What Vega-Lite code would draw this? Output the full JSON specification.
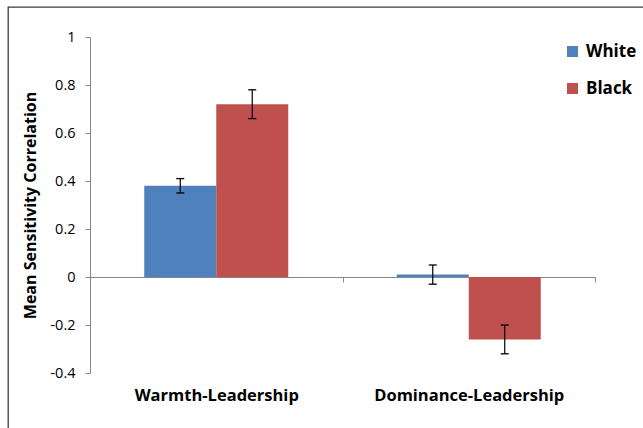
{
  "$schema": "https://vega.github.io/schema/vega-lite/v6.json",
  "width": 640,
  "height": 425,
  "autosize": {"type": "none"},
  "padding": {"left": 8, "top": 7, "right": 0, "bottom": 0},
  "background": "white",
  "config": {
    "view": {"stroke": "#3a3a3a", "strokeWidth": 1.3},
    "font": "Open Sans",
    "locale": {"number": {"decimal": ".", "thousands": ",", "grouping": [3], "currency": ["$", ""], "minus": "-"}},
    "axisY": {
      "titleFont": "Open Sans",
      "titleFontSize": 16,
      "titleFontWeight": "bold",
      "titleColor": "black",
      "titlePadding": 11
    }
  },
  "data": {
    "values": [
      {"pair": "Warmth-Leadership", "race": "White", "mean": 0.38, "lo": 0.35, "hi": 0.41},
      {"pair": "Warmth-Leadership", "race": "Black", "mean": 0.72, "lo": 0.66, "hi": 0.78},
      {"pair": "Dominance-Leadership", "race": "White", "mean": 0.01, "lo": -0.03, "hi": 0.05},
      {"pair": "Dominance-Leadership", "race": "Black", "mean": -0.26, "lo": -0.32, "hi": -0.2}
    ]
  },
  "encoding": {
    "x": {
      "field": "pair",
      "type": "nominal",
      "sort": ["Warmth-Leadership", "Dominance-Leadership"],
      "scale": {"range": [82, 587], "paddingInner": 0, "paddingOuter": 0},
      "axis": {
        "title": null,
        "orient": "bottom",
        "offset": -155,
        "domainColor": "#868686",
        "tickColor": "#868686",
        "tickSize": 5,
        "tickBand": "extent",
        "labelAngle": 0,
        "labelFont": "Open Sans",
        "labelFontSize": 16.5,
        "labelFontWeight": "bold",
        "labelColor": "black",
        "labelBaseline": "top",
        "labelLimit": 0,
        "labelPadding": 105
      }
    },
    "xOffset": {
      "field": "race",
      "sort": ["White", "Black"],
      "scale": {"paddingInner": 0, "paddingOuter": 0.7535}
    }
  },
  "layer": [
    {
      "mark": {"type": "bar"},
      "encoding": {
        "y": {
          "field": "mean",
          "type": "quantitative",
          "title": "Mean Sensitivity Correlation",
          "scale": {"domain": [-0.4, 1], "range": [366, 30], "nice": false, "zero": false},
          "axis": {
            "offset": -82,
            "grid": false,
            "values": [-0.4, -0.2, 0, 0.2, 0.4, 0.6, 0.8, 1],
            "format": "~g",
            "domainColor": "#868686",
            "tickColor": "#868686",
            "tickSize": 5,
            "labelFont": "Open Sans",
            "labelFontSize": 14.5,
            "labelColor": "black",
            "labelPadding": 10,
            "titleFontSize": 16,
            "titleFontWeight": "bold"
          }
        },
        "color": {
          "field": "race",
          "type": "nominal",
          "sort": ["White", "Black"],
          "scale": {"domain": ["White", "Black"], "range": ["#4F81BD", "#C0504D"]},
          "legend": {
            "title": null,
            "orient": "none",
            "legendX": 556,
            "legendY": 36,
            "symbolType": "square",
            "symbolSize": 121,
            "symbolStrokeWidth": 0,
            "labelFont": "Open Sans",
            "labelFontSize": 17,
            "labelFontWeight": "bold",
            "labelColor": "black",
            "labelOffset": 5,
            "labelLimit": 0,
            "rowPadding": 19
          }
        }
      }
    },
    {
      "mark": {"type": "rule", "color": "black", "strokeWidth": 1.2},
      "encoding": {
        "y": {"field": "lo", "type": "quantitative", "title": "Mean Sensitivity Correlation"},
        "y2": {"field": "hi"}
      }
    },
    {
      "mark": {"type": "tick", "orient": "horizontal", "color": "black", "thickness": 1.3, "size": 8, "opacity": 1},
      "encoding": {
        "y": {"field": "lo", "type": "quantitative", "title": "Mean Sensitivity Correlation"}
      }
    },
    {
      "mark": {"type": "tick", "orient": "horizontal", "color": "black", "thickness": 1.3, "size": 8, "opacity": 1},
      "encoding": {
        "y": {"field": "hi", "type": "quantitative", "title": "Mean Sensitivity Correlation"}
      }
    }
  ]
}
